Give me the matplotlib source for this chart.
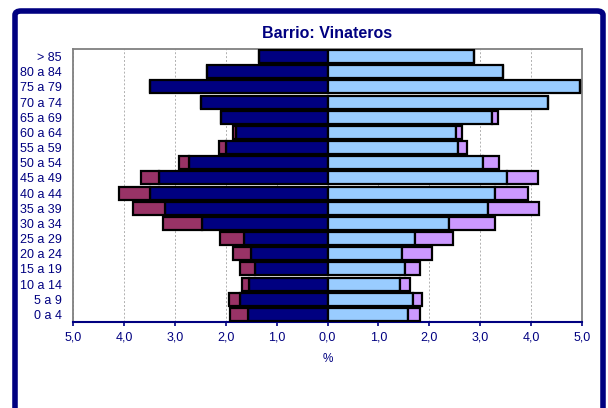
import matplotlib
matplotlib.use('Agg')
import matplotlib.pyplot as plt
from matplotlib.patches import FancyBboxPatch
from matplotlib.ticker import FuncFormatter

plt.rcParams['font.family'] = ['Liberation Sans', 'DejaVu Sans']

# grupos de edad, de abajo hacia arriba
edades = ['0 a 4', '5 a 9', '10 a 14', '15 a 19', '20 a 24', '25 a 29',
          '30 a 34', '35 a 39', '40 a 44', '45 a 49', '50 a 54', '55 a 59',
          '60 a 64', '65 a 69', '70 a 74', '75 a 79', '80 a 84', '> 85']

# % de población
hombres_esp = [1.56, 1.71, 1.54, 1.43, 1.50, 1.65, 2.46, 3.20, 3.48,
               3.31, 2.73, 1.99, 1.80, 2.10, 2.49, 3.48, 2.37, 1.35]
hombres_ext = [0.35, 0.23, 0.13, 0.28, 0.36, 0.47, 0.77, 0.63, 0.61,
               0.35, 0.18, 0.14, 0.05, 0.0, 0.0, 0.0, 0.0, 0.0]
mujeres_esp = [1.58, 1.67, 1.42, 1.53, 1.46, 1.71, 2.39, 3.16, 3.29,
               3.53, 3.06, 2.56, 2.52, 3.24, 4.33, 4.97, 3.45, 2.88]
mujeres_ext = [0.24, 0.18, 0.20, 0.29, 0.59, 0.76, 0.90, 0.99, 0.65,
               0.61, 0.30, 0.18, 0.13, 0.11, 0.0, 0.0, 0.0, 0.0]

navy = '#000080'
y = range(len(edades))
h = 0.86
lw = 1.6

fig = plt.figure(figsize=(6.08, 4.08), dpi=100)
ax = fig.add_axes([73/608, 1 - 322/408, 509/608, 273/408])

neg_h = [-v for v in hombres_esp]
neg_hx = [-v for v in hombres_ext]
ax.barh(y, neg_h, height=h, color=navy, edgecolor='black', linewidth=lw, zorder=3)
ax.barh(y, neg_hx, left=neg_h, height=h, color='#993366', edgecolor='black', linewidth=lw, zorder=3)
ax.barh(y, mujeres_esp, height=h, color='#99CCFF', edgecolor='black', linewidth=lw, zorder=3)
ax.barh(y, mujeres_ext, left=mujeres_esp, height=h, color='#CC99FF', edgecolor='black', linewidth=lw, zorder=3)

ax.set_xlim(-5, 5)
ax.set_ylim(-0.5, len(edades) - 0.5)
ax.set_xticks(range(-5, 6))
ax.xaxis.set_major_formatter(FuncFormatter(lambda v, p: ('%.1f' % abs(v)).replace('.', ',')))
ax.set_yticks(list(y))
ax.set_yticklabels(edades)
ax.tick_params(axis='y', length=0, pad=8, labelsize=9, labelcolor=navy)
ax.tick_params(axis='x', length=3, width=1.2, color=navy, pad=4, labelsize=9, labelcolor=navy)
ax.grid(axis='x', color='#b0b0b0', linestyle=(0, (2, 2)), linewidth=0.7, zorder=0)

for s in ['left', 'right', 'top']:
    ax.spines[s].set_color('#808080')
    ax.spines[s].set_linewidth(1.3)
ax.spines['bottom'].set_color(navy)
ax.spines['bottom'].set_linewidth(1.5)

ax.set_xlabel('%', color=navy, fontsize=8.5, labelpad=7)
ax.set_title('Barrio: Vinateros', color=navy, fontsize=11.5, fontweight='bold', pad=8)

marco = FancyBboxPatch((15/608, -0.1), 588/608, 1.1 - 11/408,
                       boxstyle='round,pad=0,rounding_size=0.01',
                       transform=fig.transFigure, facecolor='none',
                       edgecolor=navy, linewidth=4, clip_on=False)
fig.patches.append(marco)

fig.savefig('out.png', dpi=100)
